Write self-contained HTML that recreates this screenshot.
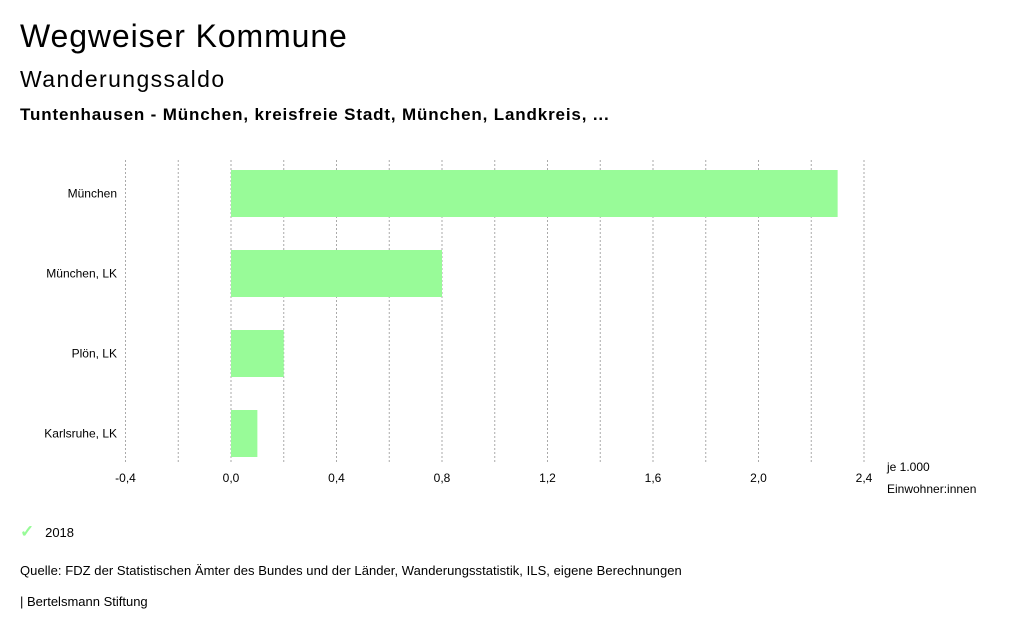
<!DOCTYPE html>
<html><head><meta charset="utf-8"><style>
body{margin:0;width:1024px;height:634px;background:#fff;font-family:"Liberation Sans",sans-serif;color:#000;overflow:hidden;position:relative}
.t{position:absolute;white-space:nowrap}
</style></head><body>
<div class="t" style="left:20px;top:18px;font-size:32px;letter-spacing:0.9px">Wegweiser Kommune</div>
<div class="t" style="left:20px;top:66px;font-size:23px;letter-spacing:1.4px">Wanderungssaldo</div>
<div class="t" style="left:20px;top:105px;font-size:17px;font-weight:bold;letter-spacing:0.85px">Tuntenhausen - München, kreisfreie Stadt, München, Landkreis, ...</div>
<svg id="chart" width="1024" height="520" style="position:absolute;left:0;top:0"></svg>
<div class="t" style="left:20px;top:522px;font-size:13px"><span style="color:#98fb98;font-size:17px;font-weight:bold">✓</span>&nbsp;&nbsp;&nbsp;2018</div>
<div class="t" style="left:20px;top:563px;font-size:13px;letter-spacing:0.05px">Quelle: FDZ der Statistischen Ämter des Bundes und der Länder, Wanderungsstatistik, ILS, eigene Berechnungen</div>
<div class="t" style="left:20px;top:594px;font-size:13px">| Bertelsmann Stiftung</div>
<script>
const categories=["München","München, LK","Plön, LK","Karlsruhe, LK"];
const values2018=[2.3,0.8,0.2,0.1];
const tickValues=[-0.4,0,0.4,0.8,1.2,1.6,2.0,2.4];
const tickLabels=["-0,4","0,0","0,4","0,8","1,2","1,6","2,0","2,4"];
const NS="http://www.w3.org/2000/svg";
const svg=document.getElementById('chart');
const x=v=>231+(v)*263.75;
const top0=160,band=80,barH=47;
const y=i=>top0+i*band+10;
function mk(t,a){const e=document.createElementNS(NS,t);for(const k in a)e.setAttribute(k,a[k]);svg.appendChild(e);return e;}
for(let v=-0.4;v<=2.401;v+=0.2){
 const g=mk('line',{x1:x(v),x2:x(v),y1:160,y2:463,stroke:'#aaa','stroke-dasharray':'2,2','stroke-width':1});
 
 
}
tickValues.forEach((v,i)=>{
 const t=mk('text',{x:x(v),y:482,'text-anchor':'middle','font-size':12,'font-family':'Liberation Sans, sans-serif'});
 t.textContent=tickLabels[i];
 
 
});
categories.forEach((c,i)=>{
 const r=mk('rect',{x:Math.min(x(0),x(values2018[i])),y:y(i),width:Math.abs(x(values2018[i])-x(0)),height:barH,fill:'#98fb98'});
 
 
 const t=mk('text',{x:117,y:y(i)+barH/2+4,'text-anchor':'end','font-size':12,'font-family':'Liberation Sans, sans-serif'});
 t.textContent=c;
 
 
});
[["je 1.000",471],["Einwohner:innen",493]].forEach(([s,yy])=>{
 const t=mk('text',{x:887,y:yy,'font-size':12,'font-family':'Liberation Sans, sans-serif'});
 t.textContent=s;
 
 
});
</script>
</body></html>
